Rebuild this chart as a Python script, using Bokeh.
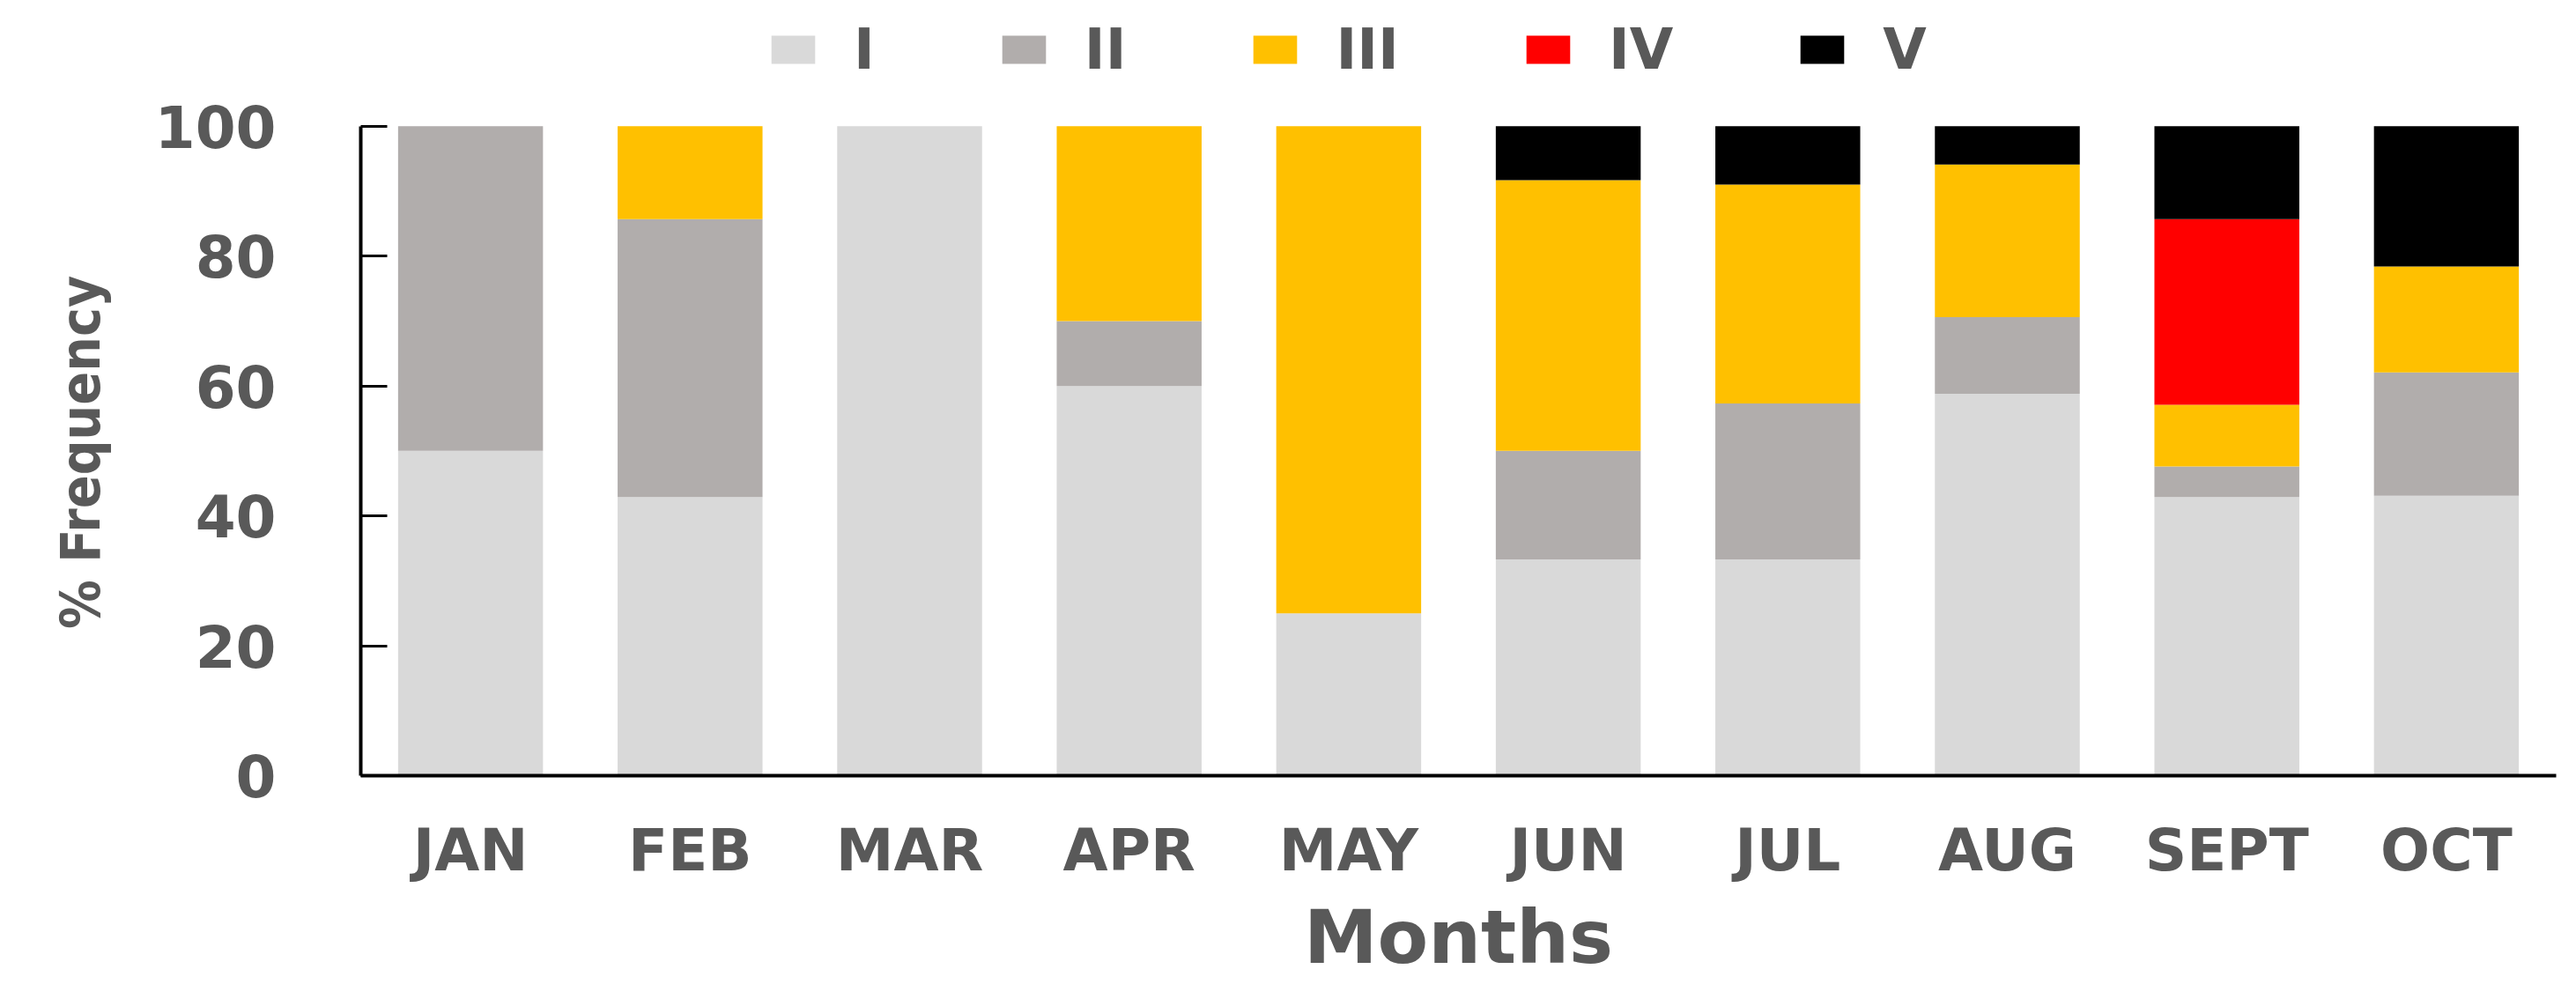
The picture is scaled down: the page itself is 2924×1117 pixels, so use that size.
from bokeh.plotting import figure
from bokeh.models import Range1d, FixedTicker, Legend, LegendItem
from bokeh.embed import file_html
from bokeh.resources import INLINE

months = ["JAN", "FEB", "MAR", "APR", "MAY", "JUN", "JUL", "AUG", "SEPT", "OCT"]
class_names = ["I", "II", "III", "IV", "V"]
class_I = [50.0, 42.9, 100.0, 60.0, 25.0, 33.3, 33.3, 58.8, 42.9, 43.1]
class_II = [50.0, 42.8, 0.0, 10.0, 0.0, 16.7, 24.0, 11.8, 4.7, 19.0]
class_III = [0.0, 14.3, 0.0, 30.0, 75.0, 41.7, 33.7, 23.5, 9.5, 16.3]
class_IV = [0.0, 0.0, 0.0, 0.0, 0.0, 0.0, 0.0, 0.0, 28.6, 0.0]
class_V = [0.0, 0.0, 0.0, 0.0, 0.0, 8.3, 9.0, 5.9, 14.3, 21.6]
y_ticks = [0, 20, 40, 60, 80, 100]

colors = ["#d9d9d9", "#b1adac", "#ffc000", "#ff0000", "#000000"]
TEXT = "#595959"

data = dict(months=months, I=class_I, II=class_II, III=class_III, IV=class_IV, V=class_V)

# frame extends above 100 to leave room for the legend inside the frame
p = figure(x_range=months, y_range=Range1d(0, 118), width=2918, height=1116,
           output_backend="svg", toolbar_location=None,
           min_border_left=409, min_border_right=17, min_border_top=10, min_border_bottom=236)
p.outline_line_color = None
p.xgrid.grid_line_color = None
p.ygrid.grid_line_color = None

renderers = p.vbar_stack(class_names, x="months", width=0.66, color=colors, source=data,
                         line_color=None)

# y axis
ya = p.yaxis[0]
ya.bounds = (0, 100)
ya.ticker = FixedTicker(ticks=y_ticks)
ya.minor_tick_line_color = None
ya.major_tick_in = 30
ya.major_tick_out = 0
ya.major_tick_line_width = 3
ya.major_tick_line_color = "black"
ya.axis_line_width = 4
ya.axis_line_color = "black"
ya.major_label_text_font = "DejaVu Sans"
ya.major_label_text_font_style = "bold"
ya.major_label_text_font_size = "66px"
ya.major_label_text_color = TEXT
ya.major_label_standoff = 96
# trailing no-break spaces re-centre the label on the 0-100 part of the axis
ya.axis_label = "% Frequency" + "\u00a0" * 7
ya.axis_label_text_font = "DejaVu Sans Condensed"
ya.axis_label_text_font_style = "bold"
ya.axis_label_text_font_size = "62px"
ya.axis_label_text_color = TEXT
ya.axis_label_standoff = 45

# x axis
xa = p.xaxis[0]
xa.major_tick_line_color = None
xa.major_tick_in = 0
xa.major_tick_out = 0
xa.axis_line_width = 4
xa.axis_line_color = "black"
xa.major_label_text_font = "DejaVu Sans"
xa.major_label_text_font_style = "bold"
xa.major_label_text_font_size = "66px"
xa.major_label_text_color = TEXT
xa.major_label_standoff = 46
xa.axis_label = "Months"
xa.axis_label_text_font = "DejaVu Sans"
xa.axis_label_text_font_style = "bold"
xa.axis_label_text_font_size = "84px"
xa.axis_label_text_color = TEXT
xa.axis_label_standoff = 8

lg = Legend(items=[LegendItem(label=n, renderers=[r]) for n, r in zip(class_names, renderers)])
lg.orientation = "horizontal"
lg.location = (460, 787)
lg.padding = 0
lg.margin = 0
lg.border_line_color = None
lg.background_fill_alpha = 0
lg.glyph_width = 62
lg.glyph_height = 40
lg.label_standoff = 38
lg.spacing = 138
lg.label_text_font = "DejaVu Sans"
lg.label_text_font_style = "bold"
lg.label_text_font_size = "64px"
lg.label_text_color = TEXT
p.add_layout(lg)

open("out.html", "w").write(file_html(p, INLINE))
